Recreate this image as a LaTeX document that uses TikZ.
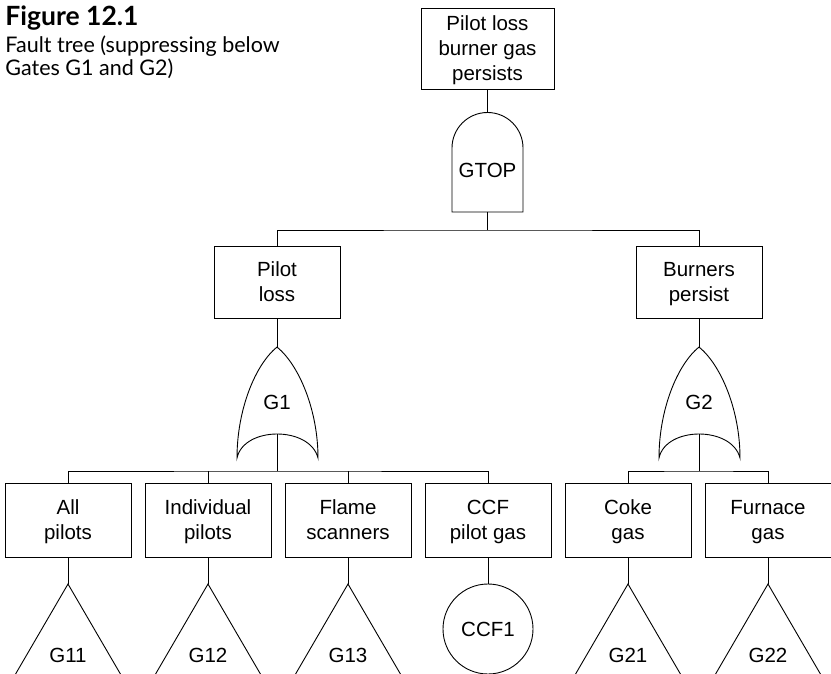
\documentclass[tikz,border=0pt]{standalone}
\usepackage{fontspec}
\setmainfont{Liberation Sans}
\newfontfamily\diafont{Liberation Sans}
\newfontfamily\titlefont{Lato}
\begin{document}
\begin{tikzpicture}[x=1pt, y=-1pt, line width=0.9pt,
  lbl/.style={font=\diafont\fontsize{20.5}{25}\selectfont, align=center, inner sep=0pt,
    text depth=0pt, execute at begin node={\vrule height 15pt depth 0pt width 0pt}},
  box/.style={lbl, draw, rectangle, minimum width=126pt, minimum height=74pt},
  midbox/.style={box, minimum height=72pt},
  event/.style={lbl, draw, circle, minimum size=90pt},
  captext/.style={anchor=base west, inner sep=0pt, font=\titlefont\fontsize{21.5}{24}\selectfont},
  andgate/.pic={
    \draw (-35.5,99.5) -- (-35.5,35.5)
      .. controls (-35.5,15.9) and (-19.6,0) .. (0,0)
      .. controls (19.6,0) and (35.5,15.9) .. (35.5,35.5)
      -- (35.5,99.5) -- cycle;
    \coordinate (-in) at (0,0);
    \coordinate (-out) at (0,99.5);
  },
  orgate/.pic={
    \draw (0,0) .. controls (-22,18) and (-40,63) .. (-40,111)
      .. controls (-33,79) and (33,79) .. (41,111)
      .. controls (41,63) and (22,18) .. (0,0);
    \coordinate (-in) at (0,0);
    \coordinate (-out) at (0,87);
  },
  transfer/.pic={
    \draw (-53,91) -- (0,0) -- (53,91);
    \coordinate (-in) at (0,0);
  }]
\useasboundingbox (0,0) rectangle (831,674);

% caption
\node[anchor=base west, inner sep=0pt, font=\titlefont\bfseries\fontsize{26.5}{30}\selectfont] (fig) at (5,26) {Figure 12.1};
\node[captext] (cap1) at (5,53) {Fault tree (suppressing below};
\node[captext] (cap2) at (5,76) {Gates G1 and G2)};

% top event and AND gate
\node[box, minimum width=133pt, minimum height=81pt] (top) at (487.5,48.5) {Pilot loss\\burner gas\\persists};
\pic (gtop) at (487.5,112.5) {andgate};
\node[lbl] (gtoplbl) at (487.5,170) {GTOP};
\draw (top.south) -- (gtop-in);
\coordinate (bus0) at (487.5,230);
\draw (gtop-out) -- (bus0);

% second level
\node[midbox] (pl) at (277,282) {Pilot\\loss};
\node[midbox] (bp) at (699,282) {Burners\\persist};
\draw (pl.north) |- (bus0) -| (bp.north);

% OR gates
\pic (g1) at (277,347) {orgate};
\node[lbl] (g1lbl) at (277,401.5) {G1};
\pic (g2) at (699,347) {orgate};
\node[lbl] (g2lbl) at (699,401.5) {G2};
\draw (pl.south) -- (g1-in);
\draw (bp.south) -- (g2-in);

% third level
\node[box] (ap) at (68,520) {All\\pilots};
\node[box] (ip) at (208,520) {Individual\\pilots};
\node[box] (fs) at (348,520) {Flame\\scanners};
\node[box] (cp) at (488,520) {CCF\\pilot gas};
\node[box] (cg) at (628,520) {Coke\\gas};
\node[box] (fg) at (768,520) {Furnace\\gas};

\coordinate (bus1) at (277,471);
\coordinate (bus2) at (699,471);
\draw (g1-out) -- (bus1);
\draw (ap.north) |- (bus1) -| (cp.north);
\draw (ip.north) -- (ip.north |- bus1);
\draw (fs.north) -- (fs.north |- bus1);
\draw (g2-out) -- (bus2);
\draw (cg.north) |- (bus2) -| (fg.north);

% transfers and basic event
\pic (t11) at (68,584) {transfer};
\pic (t12) at (208,584) {transfer};
\pic (t13) at (348,584) {transfer};
\pic (t21) at (628,584) {transfer};
\pic (t22) at (768,584) {transfer};
\node[lbl] (l11) at (68,655) {G11};
\node[lbl] (l12) at (208,655) {G12};
\node[lbl] (l13) at (348,655) {G13};
\node[lbl] (l21) at (628,655) {G21};
\node[lbl] (l22) at (768,655) {G22};
\draw (ap.south) -- (t11-in);
\draw (ip.south) -- (t12-in);
\draw (fs.south) -- (t13-in);
\draw (cg.south) -- (t21-in);
\draw (fg.south) -- (t22-in);

\node[event] (ccf) at (488,629) {CCF1};
\draw (cp.south) -- (ccf.north);
\end{tikzpicture}
\end{document}
